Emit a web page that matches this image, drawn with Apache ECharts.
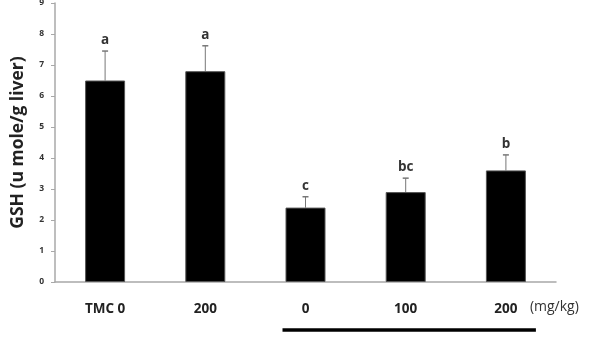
<!DOCTYPE html>
<html><head><meta charset="utf-8">
<script src="https://cdn.jsdelivr.net/npm/echarts@6/dist/echarts.min.js"></script>
<style>html,body{margin:0;padding:0;background:#fff}#c{width:593px;height:342px}</style>
</head><body><div id="c"></div>
<script>
var categories = ['TMC 0', '200', '0', '100', '200'];
var means = [6.5, 6.8, 2.4, 2.9, 3.6];
var errors = [0.95, 0.82, 0.35, 0.45, 0.5];
var letters = ['a', 'a', 'c', 'bc', 'b'];
var yTicks = [0, 9, 1];
var unitLabel = '(mg/kg)';
var yTitle = 'GSH (u mole/g liver)';
var groupSpan = [2, 4];

var chart = echarts.init(document.getElementById('c'));
var errData = means.map(function (m, i) { return [i, m, m + errors[i]]; });

var option = {
  animation: false,
  backgroundColor: '#fff',
  grid: { left: 55, right: 37, top: 3, bottom: 60, containLabel: false, outerBoundsMode: 'none' },
  xAxis: {
    type: 'category', data: categories,
    axisLine: { lineStyle: { color: '#a8a8a8', width: 1.5 } },
    axisTick: { show: false },
    axisLabel: { margin: 20, color: '#222', fontFamily: 'Open Sans', fontWeight: 'bold', fontSize: 13.5 }
  },
  yAxis: {
    type: 'value', min: yTicks[0], max: yTicks[1], interval: yTicks[2],
    name: yTitle, nameLocation: 'middle', nameGap: 28, nameRotate: 90,
    nameTextStyle: { fontFamily: 'Open Sans', fontWeight: 'bold', fontSize: 17.5, color: '#222' },
    axisLine: { show: true, lineStyle: { color: '#a8a8a8', width: 1.5 } },
    axisTick: { show: true, length: 4, lineStyle: { color: '#a8a8a8' } },
    axisLabel: { margin: 11, color: '#333', fontFamily: 'Open Sans', fontSize: 8.5, fontWeight: 'bold' },
    splitLine: { show: false }
  },
  series: [
    {
      type: 'bar', data: means, barWidth: 40,
      itemStyle: { color: '#000', borderColor: '#555', borderWidth: 1 }
    },
    {
      type: 'custom', data: errData, z: 1,
      renderItem: function (params, api) {
        var top = api.coord([api.value(0), api.value(2)]);
        var base = api.coord([api.value(0), api.value(1)]);
        var x = top[0];
        return {
          type: 'group',
          children: [
            { type: 'line', shape: { x1: x, y1: base[1], x2: x, y2: top[1] }, style: { stroke: '#777', lineWidth: 1 } },
            { type: 'line', shape: { x1: x - 3, y1: top[1], x2: x + 3, y2: top[1] }, style: { stroke: '#777', lineWidth: 1.5 } },
            { type: 'text', style: { text: letters[params.dataIndex], x: x, y: top[1] - 4, align: 'center', verticalAlign: 'bottom', fontFamily: 'Open Sans', fontWeight: 'bold', fontSize: 13.5, fill: '#333' } }
          ]
        };
      }
    },
    {
      type: 'custom', data: [[groupSpan[0], groupSpan[1]]], silent: true,
      renderItem: function (params, api) {
        var a = api.coord([api.value(0), 0]);
        var b = api.coord([api.value(1), 0]);
        var y = a[1] + 48;
        return { type: 'line', shape: { x1: a[0] - 23, y1: y, x2: b[0] + 30, y2: y }, style: { stroke: '#000', lineWidth: 3.5 } };
      }
    }
  ]
};
chart.setOption(option);
var p = chart.convertToPixel({ xAxisIndex: 0, yAxisIndex: 0 }, [categories.length - 1, 0]);
chart.setOption({
  graphic: [{ type: 'text', left: p[0] + 24, top: p[1] + 18, style: { text: unitLabel, fontFamily: 'Open Sans', fontSize: 14, fill: '#333' } }]
});
</script></body></html>
